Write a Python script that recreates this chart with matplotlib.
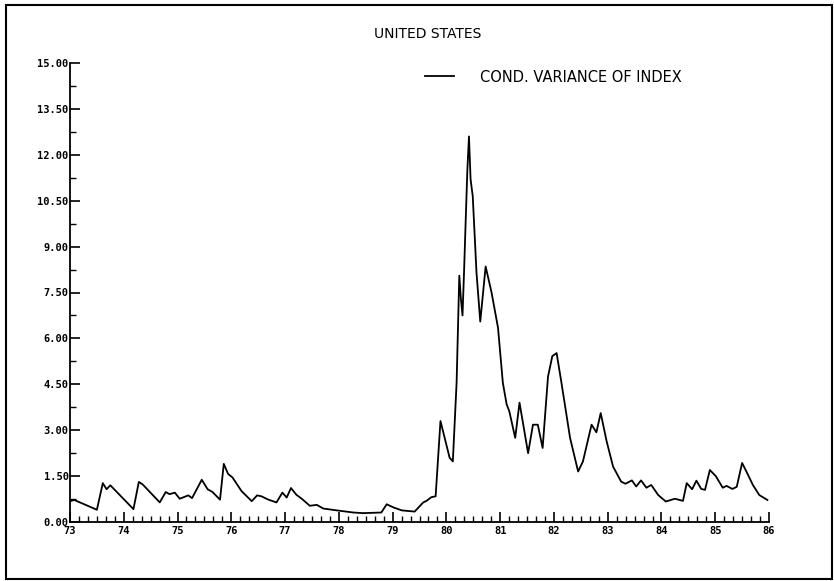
import matplotlib
matplotlib.use("Agg")
import matplotlib.pyplot as plt
from matplotlib.patches import Rectangle
from matplotlib.ticker import MultipleLocator, FixedLocator
import numpy as np

title = "UNITED STATES"
series_label = "COND. VARIANCE OF INDEX"

dates = [73.00, 73.08, 73.50, 73.61, 73.68, 73.75, 74.18, 74.28, 74.35, 74.67,
         74.78, 74.85, 74.95, 75.04, 75.20, 75.27, 75.45, 75.56, 75.65, 75.79,
         75.86, 75.94, 76.02, 76.19, 76.38, 76.48, 76.56, 76.69, 76.84, 76.95,
         77.03, 77.11, 77.21, 77.31, 77.46, 77.59, 77.71, 77.96, 78.27, 78.45,
         78.79, 78.89, 79.01, 79.17, 79.41, 79.57, 79.63, 79.72, 79.80, 79.89,
         80.06, 80.12, 80.19, 80.24, 80.27, 80.30, 80.33, 80.36, 80.39, 80.42,
         80.45, 80.49, 80.56, 80.63, 80.73, 80.84, 80.96, 81.05, 81.12, 81.17,
         81.28, 81.36, 81.52, 81.61, 81.70, 81.79, 81.89, 81.97, 82.05, 82.14,
         82.30, 82.45, 82.54, 82.70, 82.79, 82.87, 82.98, 83.10, 83.25, 83.33,
         83.45, 83.53, 83.62, 83.72, 83.81, 83.94, 84.08, 84.25, 84.40, 84.47,
         84.57, 84.65, 84.74, 84.81, 84.90, 85.01, 85.14, 85.21, 85.32, 85.40,
         85.50, 85.61, 85.70, 85.82, 85.97]

variance = [0.68, 0.72, 0.40, 1.27, 1.07, 1.20, 0.42, 1.31, 1.23, 0.64,
            0.98, 0.91, 0.96, 0.76, 0.87, 0.78, 1.38, 1.07, 0.98, 0.73,
            1.90, 1.57, 1.46, 1.01, 0.68, 0.87, 0.84, 0.73, 0.64, 0.96,
            0.80, 1.11, 0.89, 0.76, 0.53, 0.56, 0.44, 0.38, 0.31, 0.29,
            0.31, 0.58, 0.48, 0.38, 0.34, 0.64, 0.69, 0.81, 0.84, 3.30,
            2.10, 1.98, 4.55, 8.05, 7.30, 6.75, 8.25, 9.90, 11.50, 12.60,
            11.20, 10.65, 8.15, 6.55, 8.35, 7.50, 6.35, 4.55, 3.85, 3.62,
            2.75, 3.90, 2.25, 3.18, 3.18, 2.42, 4.75, 5.42, 5.52, 4.55,
            2.75, 1.65, 1.98, 3.18, 2.93, 3.56, 2.64, 1.81, 1.32, 1.25,
            1.36, 1.16, 1.36, 1.12, 1.21, 0.88, 0.67, 0.76, 0.69, 1.27,
            1.07, 1.35, 1.08, 1.05, 1.70, 1.50, 1.12, 1.18, 1.08, 1.15,
            1.93, 1.54, 1.21, 0.88, 0.72]

year_ticks = list(range(73, 87))
year_labels = [str(y) for y in year_ticks]
y_ticks = [0.0, 1.5, 3.0, 4.5, 6.0, 7.5, 9.0, 10.5, 12.0, 13.5, 15.0]
y_labels = ["%.2f" % v for v in y_ticks]

W, H = 834, 581
fig = plt.figure(figsize=(W / 100, H / 100), dpi=100)
ax = fig.add_axes([70 / W, 1 - 522 / H, (769 - 70) / W, (522 - 63) / H])

ax.plot(dates, variance, color="black", lw=1.3, label=series_label)

ax.set_xlim(73, 86)
ax.set_ylim(0, 15)
for s in ("top", "right"):
    ax.spines[s].set_visible(False)
for s in ("left", "bottom"):
    ax.spines[s].set_linewidth(1.3)

ax.xaxis.set_major_locator(FixedLocator(year_ticks))
ax.set_xticklabels(year_labels)
ax.xaxis.set_minor_locator(MultipleLocator(1 / 6))
ax.yaxis.set_major_locator(FixedLocator(y_ticks))
ax.set_yticklabels(y_labels)
ax.yaxis.set_minor_locator(MultipleLocator(0.75))

ax.tick_params(axis="x", which="major", direction="in", length=7, width=1.2, pad=3)
ax.tick_params(axis="x", which="minor", direction="in", length=4, width=1.0)
ax.tick_params(axis="y", which="major", direction="in", length=7, width=1.2, pad=1)
ax.tick_params(axis="y", which="minor", direction="in", length=4, width=1.0)
for lab in ax.get_xticklabels() + ax.get_yticklabels():
    lab.set_fontfamily("DejaVu Sans Mono")
    lab.set_fontweight("bold")
    lab.set_fontsize(7.5)

fig.text(428 / W, 1 - 34 / H, title, ha="center", va="center",
         fontsize=10, family="DejaVu Sans")

ax.legend(loc="center left", bbox_to_anchor=(425 / W, 1 - 77 / H),
          bbox_transform=fig.transFigure, frameon=False, borderpad=0,
          borderaxespad=0, handlelength=2.0, handletextpad=1.8,
          prop={"family": "DejaVu Sans", "size": 10.5})

fig.patches.append(Rectangle((6 / W, 1 - 579 / H), (832 - 6) / W, (579 - 5) / H,
                             transform=fig.transFigure, fill=False,
                             edgecolor="black", lw=1.5))

fig.savefig("out.png", dpi=100)
